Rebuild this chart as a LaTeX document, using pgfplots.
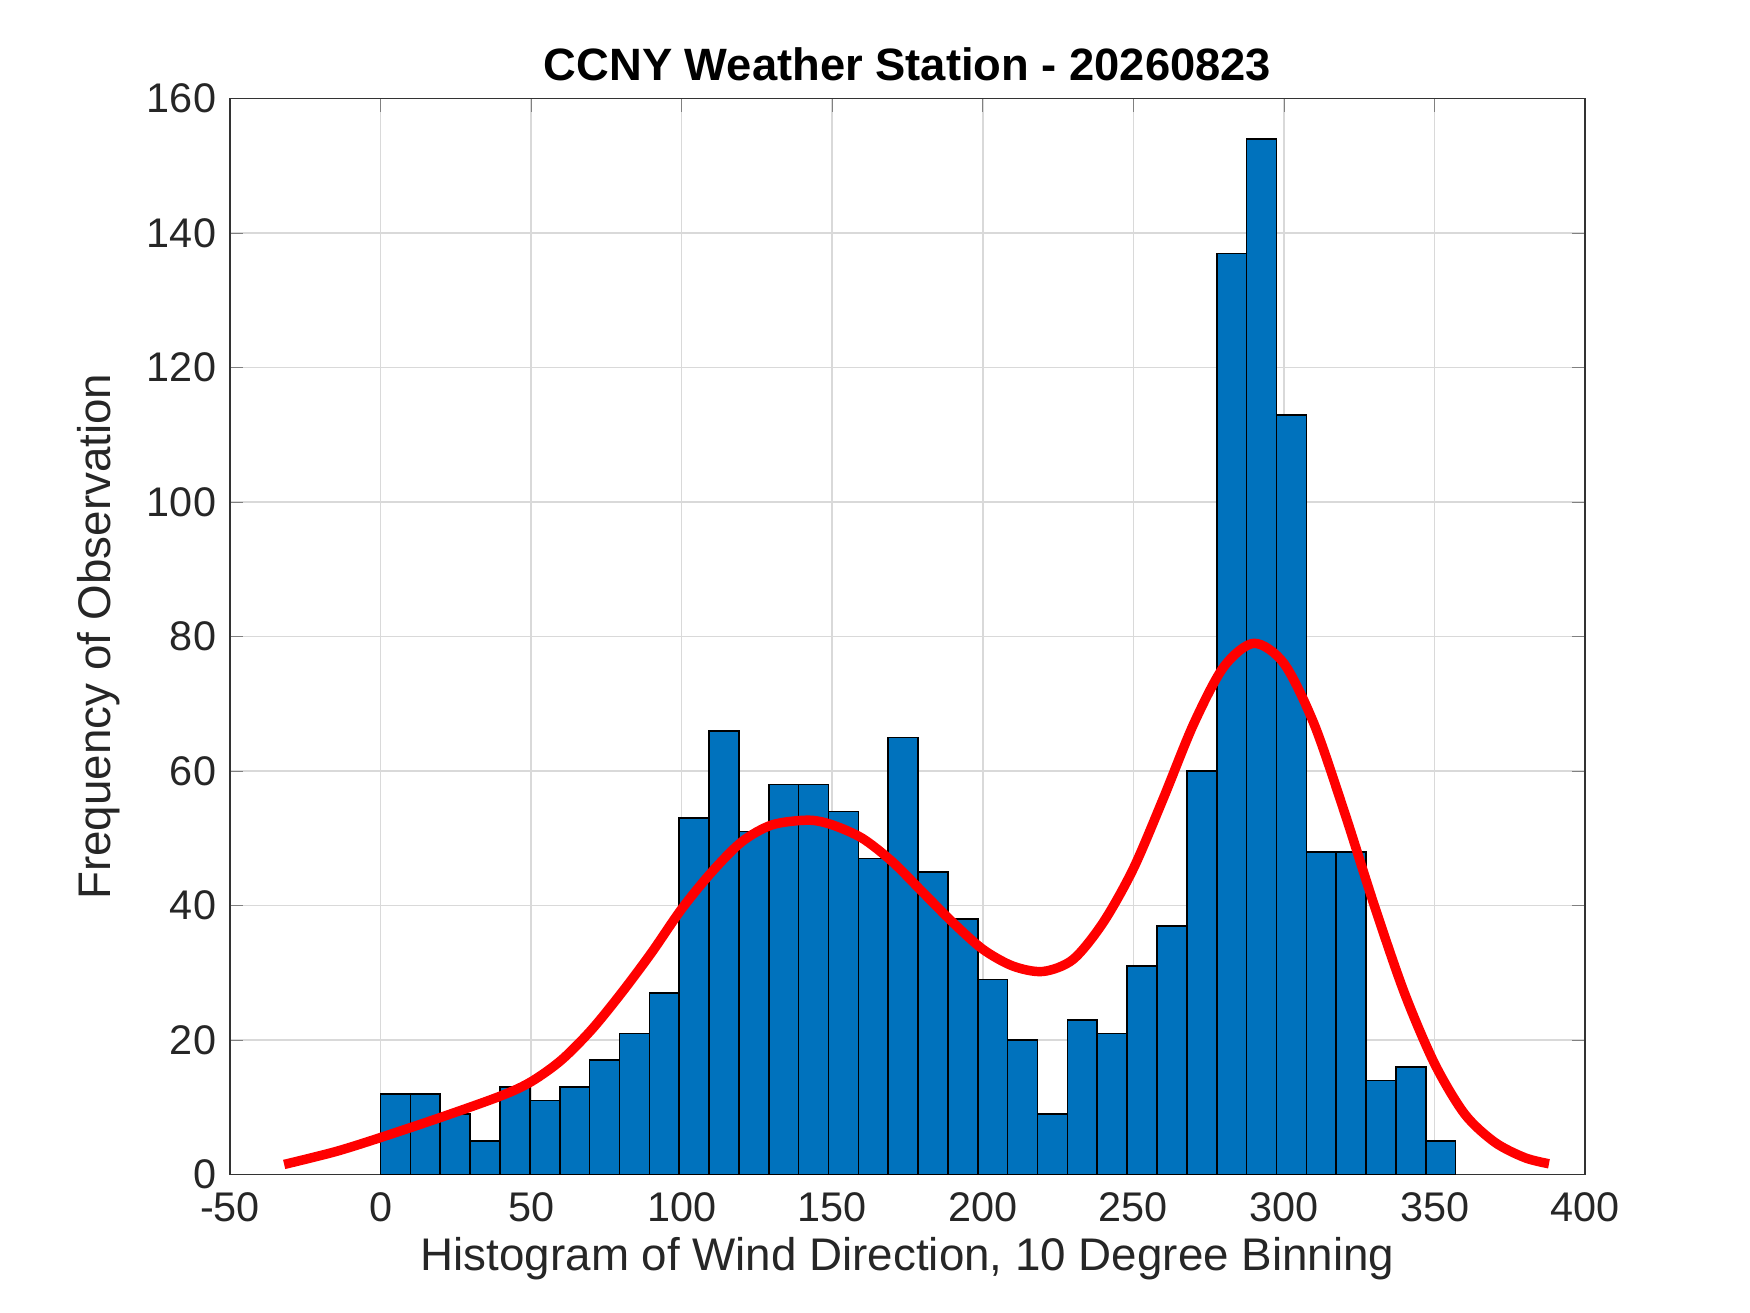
\documentclass[border=0pt]{standalone}
\usepackage{pgfplots}
\pgfplotsset{compat=1.18}
\usepackage{fontspec}
\setmainfont{Liberation Sans}
\definecolor{mblue}{RGB}{0,114,189}
\begin{document}
\begin{tikzpicture}
\path (-2.05,-1.23) rectangle (13.55,10.47);
\begin{axis}[at={(0,0)},anchor=south west,scale only axis,width=12.08cm,height=9.59cm,
xmin=-50,xmax=400,ymin=0,ymax=160,
xtick={-50,0,...,400},ytick={0,20,...,160},
grid=major,grid style={gray!30},
tick align=inside,major tick length=0.12cm,axis line style={black!80},
ticklabel style={font=\fontsize{10.5}{12}\selectfont,text=black!85},
xticklabel style={yshift=-1pt},
/pgf/number format/assume math mode=true,
xlabel={Histogram of Wind Direction, 10 Degree Binning},
ylabel={Frequency of Observation},
xlabel style={yshift=3pt},
label style={font=\fontsize{11.6}{14}\selectfont,text=black!85},
title={\textbf{CCNY Weather Station - 20260823}},
title style={font=\fontsize{11.5}{13}\selectfont,yshift=-5pt},
]
\addplot[ybar interval,fill=mblue,draw=black,line width=0.4pt] table {
x y
0 12
9.92 12
19.83 9
29.75 5
39.67 13
49.58 11
59.5 13
69.42 17
79.33 21
89.25 27
99.17 53
109.08 66
119 51
128.92 58
138.83 58
148.75 54
158.67 47
168.58 65
178.5 45
188.42 38
198.33 29
208.25 20
218.17 9
228.08 23
238 21
247.92 31
257.83 37
267.75 60
277.67 137
287.58 154
297.5 113
307.42 48
317.33 48
327.25 14
337.17 16
347.08 5
357 5
};
\addplot[red,line width=2.4pt,smooth] table {
x y
-32 1.5
-15 3.4
0 5.5
20 8.5
40 11.7
50 13.8
60 17
70 21.5
80 27
90 33
100 39.5
110 45
120 49.5
130 52
142 52.7
150 52
160 50
170 46.5
180 42
190 37.5
200 33.5
210 31
220 30.2
230 32
240 37.5
250 45.5
260 56
270 67
280 75.5
290 79
300 76
310 67
320 54
330 40
340 27
350 16.5
360 9
370 4.8
380 2.5
388 1.6
};
\end{axis}
\end{tikzpicture}
\end{document}
